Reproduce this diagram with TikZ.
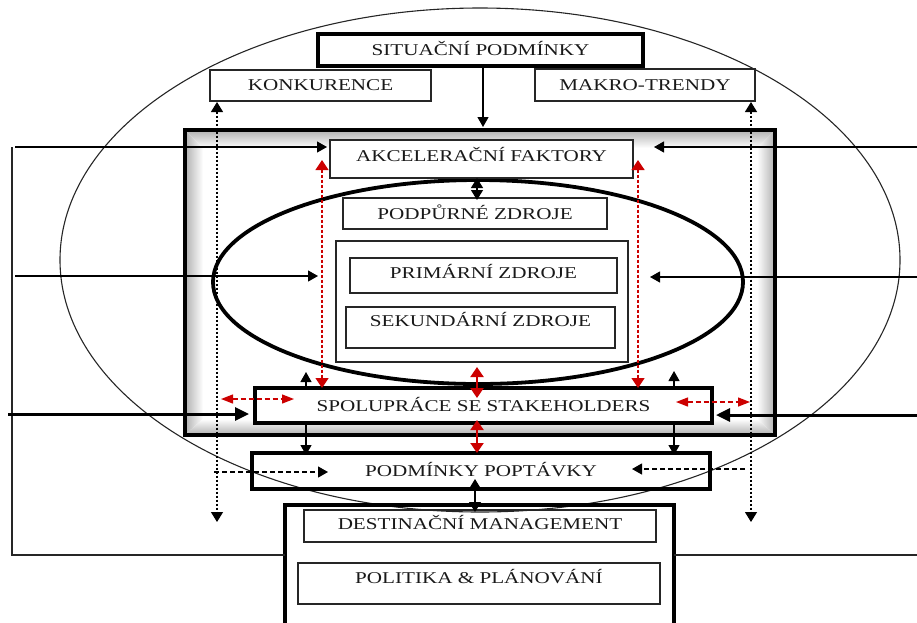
\documentclass[tikz,border=0pt]{standalone}
\usepackage{fontspec}
\setmainfont{Liberation Serif}[FakeStretch=1.28]
\usetikzlibrary{arrows.meta,calc}
\definecolor{rd}{HTML}{CC0000}
\tikzset{
  box/.style={draw=black!85, line width=1.4pt, inner sep=0pt, text height=11pt, text depth=0pt,
              font=\fontsize{16.5}{18}\selectfont, text=black!90},
  tbox/.style={box, draw=black, line width=3.6pt},
  tip/.style={-{Triangle[length=10pt,width=11pt]}},
  arr/.style={line width=1.2pt, tip},
  thickarr/.style={line width=3pt, -{Triangle[length=14pt,width=13pt]}},
  darr/.style={line width=1.2pt, {Triangle[length=10pt,width=12pt]}-{Triangle[length=10pt,width=12pt]}},
  dotarr/.style={line width=1.2pt, {Triangle[length=10pt,width=12pt]}-{Triangle[length=10pt,width=12pt]}, dash pattern=on 2.5pt off 1.5pt},
  dasharr/.style={arr, dash pattern=on 5pt off 3pt},
  redv/.style={line width=1.3pt, rd, dash pattern=on 3pt off 2pt, {Triangle[length=10pt,width=13pt]}-{Triangle[length=10pt,width=13pt]}},
  redh/.style={line width=1.3pt, rd, dash pattern=on 5pt off 3pt, {Triangle[length=12pt,width=9pt]}-{Triangle[length=12pt,width=9pt]}},
  redd/.style={line width=2pt, rd, {Triangle[length=10pt,width=13pt]}-{Triangle[length=10pt,width=13pt]}},
  thin/.style={line width=1.1pt, black!85}
}
\begin{document}
\begin{tikzpicture}[x=1pt,y=-1pt]
\useasboundingbox (0,0) rectangle (917,622);

% outer ellipse
\draw[thin] (480,260) ellipse [x radius=420, y radius=252];

% frame with inner shading
\shade[left color=gray!55,right color=white] (187,132) -- (203,148) -- (203,419) -- (187,433) -- cycle;
\shade[right color=gray!55,left color=white] (773,132) -- (757,148) -- (757,419) -- (773,433) -- cycle;
\shade[top color=gray!55,bottom color=white] (187,132) -- (773,132) -- (757,148) -- (203,148) -- cycle;
\shade[bottom color=gray!55,top color=white] (187,433) -- (773,433) -- (757,419) -- (203,419) -- cycle;
\node[draw, line width=3.8pt, minimum width=590pt, minimum height=305pt, inner sep=0pt] (frame) at (480,282.5) {};

% inner ellipse
\draw[line width=3.8pt] (478,282) ellipse [x radius=265, y radius=102];

% boxes
\node[tbox, minimum width=325pt, minimum height=32pt] (sit) at (480.5,50) {SITUAČNÍ PODMÍNKY};
\node[box, minimum width=221pt, minimum height=31pt, text depth=2pt] (konk) at (320.5,85.5) {KONKURENCE};
\node[box, minimum width=220pt, minimum height=32pt, text depth=1pt] (makro) at (645,85) {MAKRO-TRENDY};
\node[box, fill=white, minimum width=303pt, minimum height=38pt, text depth=7pt] (akcel) at (481.5,159) {AKCELERAČNÍ FAKTORY};
\node[box, minimum width=264pt, minimum height=31pt] (podp) at (475,213.5) {PODPŮRNÉ ZDROJE};
\node[box, minimum width=292pt, minimum height=121pt] (cont) at (482,301.5) {};
\node[box, minimum width=267pt, minimum height=35pt, text depth=5pt] (prim) at (483.5,275.5) {PRIMÁRNÍ ZDROJE};
\node[box, minimum width=269pt, minimum height=41pt, text depth=14pt] (sek) at (480.5,327.5) {SEKUNDÁRNÍ ZDROJE};
\node[tbox, fill=white, minimum width=457pt, minimum height=35pt] (spol) at (483.5,405.5) {SPOLUPRÁCE SE STAKEHOLDERS};
\node[tbox, minimum width=458pt, minimum height=36pt] (podm) at (481,471) {PODMÍNKY POPTÁVKY};
\draw[line width=3.8pt] (285,630) -- (285,505) -- (674,505) -- (674,630);
\coordinate (destL) at (285,555);
\coordinate (destR) at (674,555);
\node[box, minimum width=352pt, minimum height=32pt, text depth=4pt] (dm) at (480,526) {DESTINAČNÍ MANAGEMENT};
\node[box, minimum width=362pt, minimum height=41pt, text depth=12pt] (pol) at (479,583.5) {POLITIKA \& PLÁNOVÁNÍ};

% left / right bracket lines
\coordinate (LT) at (12,147);
\coordinate (LB) at (12,555);
\draw[thin] (LT) -- (LB) -- (destL);
\draw[thin] (destR) -- (917,555);

% horizontal arrows at y=147
\draw[arr] (15,147) -- (327,147);
\draw[arr] (917,147) -- (654,147);
% arrows at y=276
\draw[arr] (15,276) -- (318,276);
\draw[arr] (917,277) -- (650,277);
% thick arrows at y=414
\draw[thickarr] (8,414) -- (249,414);
\draw[thickarr] (917,415) -- (716,415);

% situacni -> frame
\draw[arr] (sit.south -| 483,0) -- (483,127);
% akcel <-> podp
\draw[darr] (477,178) -- (477,200);

% dotted verticals
\draw[dotarr] (217,102) -- (217,522);
\draw[dotarr] (751,102) -- (751,522);

% red dashed verticals
\draw[redv] (322,160) -- (322,388);
\draw[redv] (638,160) -- (638,388);
% red dashed horizontals
\draw[redh] (221,399) -- (294,399);
\draw[redh] (676,402) -- (750,402);
% red solid double arrows
\draw[redd] (477,367) -- (477,398);
\draw[redd] (477,420) -- (477,453);

% black small arrows
\draw[arr] (306,388) -- (306,372);
\draw[arr] (674,388) -- (674,371);
\draw[arr] (306,423) -- (306,455);
\draw[arr] (674,423) -- (674,455);

% podm <-> dest
\draw[darr] (475,479) -- (475,512);

% dashed horizontals into podm
\draw[dasharr] (214,472) -- (328,472);
\draw[dasharr] (745,469) -- (632,469);
\end{tikzpicture}
\end{document}
